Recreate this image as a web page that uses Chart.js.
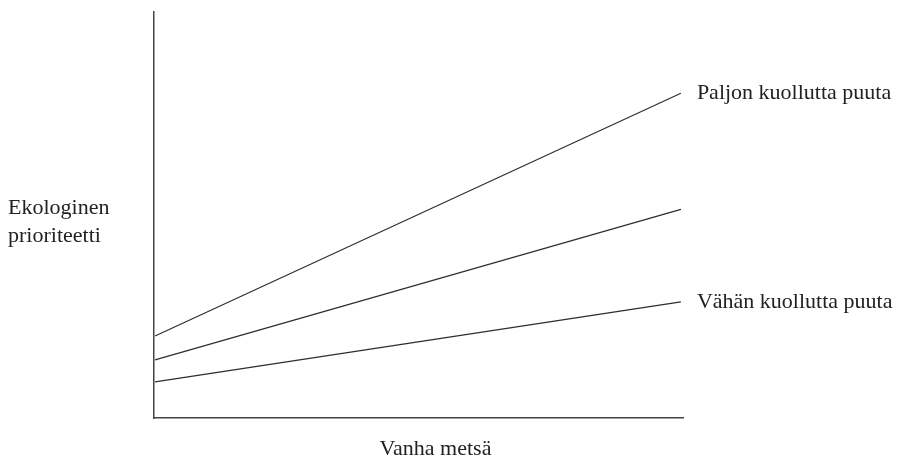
<!DOCTYPE html>
<html>
<head>
<meta charset="utf-8">
<script src="https://cdn.jsdelivr.net/npm/chart.js@4"></script>
<style>
  html, body { margin: 0; padding: 0; background: #fff; }
  #wrap { width: 900px; height: 457px; position: relative; }
</style>
</head>
<body>
<div id="wrap"><canvas id="chart"></canvas></div>
<script>
// Vanha metsä -akseli (0..10), alku ja loppu
const xPoints = [0.02, 9.96];

// Sarjat: ekologinen prioriteetti
const paljonValues = [2.02, 8.0];
const keskiValues = [1.43, 5.14];
const vahanValues = [0.89, 2.86];

const seriesLabels = ['Paljon kuollutta puuta', '', 'Vähän kuollutta puuta'];
const yTitleLines = ['Ekologinen', 'prioriteetti'];
const xTitle = 'Vanha metsä';

const fontFamily = '"Liberation Serif", "DejaVu Serif", serif';
const ink = '#222';

function toPoints(values) {
    return values.map((v, i) => ({ x: xPoints[i], y: v }));
}

// Tekstit: sarjojen nimet viivojen päihin ja akselien otsikot
const textPlugin = {
    id: 'texts',
    afterDraw(chart) {
        const ctx = chart.ctx;
        const area = chart.chartArea;
        const xs = chart.scales.x;
        const ys = chart.scales.y;
        ctx.save();
        ctx.fillStyle = ink;
        ctx.font = '22px ' + fontFamily;
        ctx.textBaseline = 'middle';
        ctx.textAlign = 'left';
        chart.data.datasets.forEach((ds, i) => {
            if (!seriesLabels[i]) return;
            const last = ds.data[ds.data.length - 1];
            ctx.fillText(seriesLabels[i], xs.getPixelForValue(last.x) + 16, ys.getPixelForValue(last.y));
        });
        ctx.fillText(yTitleLines[0], 8, 208);
        ctx.fillText(yTitleLines[1], 8, 236);
        ctx.textAlign = 'center';
        ctx.fillText(xTitle, (area.left + area.right) / 2 + 17, area.bottom + 31);
        ctx.restore();
    }
};

const lineStyle = {
    borderColor: '#2e2e2e',
    borderWidth: 1.2,
    pointRadius: 0,
    tension: 0,
    fill: false
};

new Chart(document.getElementById('chart'), {
    type: 'line',
    data: {
        datasets: [
            Object.assign({ label: seriesLabels[0], data: toPoints(paljonValues) }, lineStyle),
            Object.assign({ label: 'keski', data: toPoints(keskiValues) }, lineStyle),
            Object.assign({ label: seriesLabels[2], data: toPoints(vahanValues) }, lineStyle)
        ]
    },
    options: {
        responsive: true,
        maintainAspectRatio: false,
        animation: false,
        layout: {
            padding: { left: 146, right: 217, top: 12, bottom: 31 }
        },
        plugins: {
            legend: { display: false },
            tooltip: { enabled: false }
        },
        scales: {
            x: {
                type: 'linear',
                min: 0,
                max: 10,
                grid: { display: false },
                ticks: { display: false },
                border: { display: true, color: '#444', width: 1.5 }
            },
            y: {
                type: 'linear',
                min: 0,
                max: 10,
                grid: { display: false },
                ticks: { display: false },
                border: { display: true, color: '#444', width: 1.5 }
            }
        }
    },
    plugins: [textPlugin]
});
</script>
</body>
</html>
